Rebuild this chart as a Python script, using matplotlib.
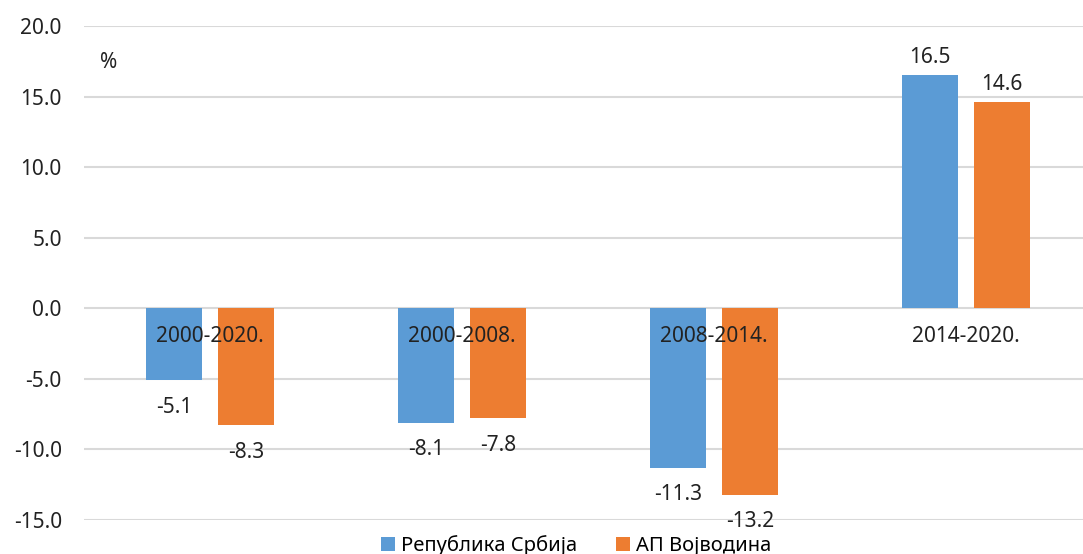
import matplotlib
matplotlib.use('Agg')
import matplotlib.pyplot as plt
import numpy as np

# Podaci
periodi = ['2000-2020.', '2000-2008.', '2008-2014.', '2014-2020.']
srbija = [-5.1, -8.1, -11.3, 16.5]
vojvodina = [-8.3, -7.8, -13.2, 14.6]
serije = ['Република Србија', 'АП Војводина']
boje = ['#5b9bd5', '#ed7d31']

plt.rcParams['font.family'] = ['Noto Sans', 'DejaVu Sans']
fs = 15

fig = plt.figure(figsize=(10.83, 5.54), dpi=100)
ax = fig.add_axes([84 / 1083, 34 / 554, 1008 / 1083, 494 / 554])

x = np.arange(len(periodi))
sirina = 0.222
pomak = 0.143

b1 = ax.bar(x - pomak, srbija, sirina, color=boje[0], label=serije[0], zorder=3)
b2 = ax.bar(x + pomak, vojvodina, sirina, color=boje[1], label=serije[1], zorder=3)

# Oznake vrednosti
for bars in (b1, b2):
    for b in bars:
        v = b.get_height()
        xc = b.get_x() + b.get_width() / 2
        if v >= 0:
            ax.annotate(f'{v:.1f}', (xc, v), xytext=(0, 5), textcoords='offset points',
                        ha='center', va='bottom', fontsize=fs, color='#222222', zorder=4)
        else:
            ax.annotate(f'{v:.1f}', (xc, v), xytext=(0, -12), textcoords='offset points',
                        ha='center', va='top', fontsize=fs, color='#222222', zorder=4)

# Nazivi perioda na nultoj liniji
for i, p in enumerate(periodi):
    ax.annotate(p, (i, 0), xytext=(0, -13), textcoords='offset points',
                ha='center', va='top', fontsize=fs, color='#222222', zorder=5)

ax.set_xlim(-0.5, 3.5)
ax.set_ylim(-15, 20)
ax.set_yticks(np.arange(-15, 20.1, 5))
ax.set_yticklabels([f'{t:.1f}' for t in np.arange(-15, 20.1, 5)], fontsize=fs, color='#222222')
ax.set_xticks([])
ax.tick_params(axis='y', length=0, pad=16)
ax.grid(axis='y', color='#d9d9d9', linewidth=1.5, zorder=0)
for s in ax.spines.values():
    s.set_visible(False)

ax.text(0.016, 0.915, '%', transform=ax.transAxes, fontsize=fs, color='#222222')

fig.legend(loc='lower center', bbox_to_anchor=(0.532, -0.036), ncol=2, frameon=False,
           fontsize=14.5, handlelength=0.7, handleheight=0.7, handletextpad=0.3,
           columnspacing=1.9)

plt.savefig('out.png', dpi=100)
plt.close()
